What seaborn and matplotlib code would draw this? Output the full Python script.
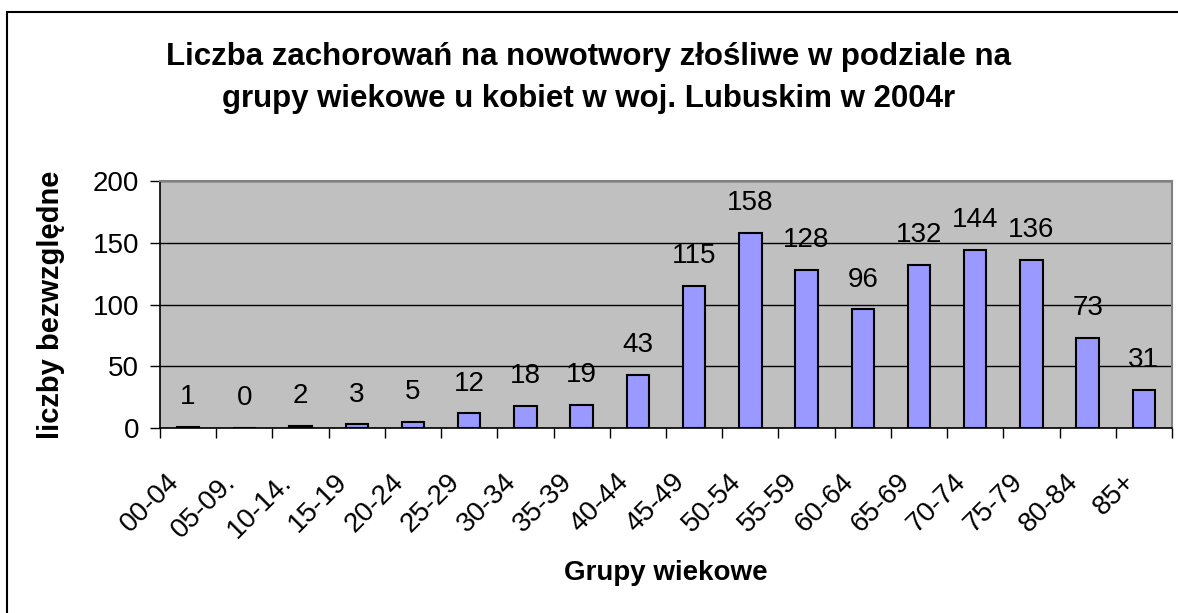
import numpy as np
import matplotlib
matplotlib.use("Agg")
import matplotlib.pyplot as plt
import seaborn as sns
from matplotlib.patches import Rectangle
from matplotlib.transforms import ScaledTranslation

sns.set_style("white")
plt.rcParams['font.family'] = ['Liberation Sans', 'DejaVu Sans']
plt.rcParams['text.color'] = 'black'
plt.rcParams['axes.labelcolor'] = 'black'
plt.rcParams['xtick.color'] = 'black'
plt.rcParams['ytick.color'] = 'black'

groups = ["00-04", "05-09.", "10-14.", "15-19", "20-24", "25-29", "30-34", "35-39",
          "40-44", "45-49", "50-54", "55-59", "60-64", "65-69", "70-74", "75-79",
          "80-84", "85+"]
counts = [1, 0, 2, 3, 5, 12, 18, 19, 43, 115, 158, 128, 96, 132, 144, 136, 73, 31]

title_1 = "Liczba zachorowań na nowotwory złośliwe w podziale na"
title_2 = "grupy wiekowe u kobiet w woj. Lubuskim w 2004r"

fig = plt.figure(figsize=(11.78, 6.13), dpi=100)
ax = fig.add_axes([160 / 1178, 1 - 428 / 613, 1012 / 1178, 247 / 613])
ax.set_facecolor("#C0C0C0")

sns.barplot(x=groups, y=counts, color="#9999FF", saturation=1, width=0.4,
            edgecolor="black", linewidth=1.5, ax=ax, zorder=3)
ax.bar_label(ax.containers[0], padding=12, fontsize=20)

ax.set_ylim(0, 200)
ax.set_xlim(-0.5, len(groups) - 0.5)
ax.set_yticks([0, 50, 100, 150, 200])
ax.yaxis.grid(True, color="black", linewidth=1)
ax.set_axisbelow(True)

# ticks between categories, labels at centres
ax.set_xticks(np.arange(len(groups)))
ax.set_xticklabels(groups, rotation=45, ha="right", va="center", rotation_mode="anchor")
ax.set_xticks(np.arange(len(groups) + 1) - 0.5, minor=True)
ax.tick_params(axis="x", which="major", length=0, pad=36, labelsize=20)
ax.tick_params(axis="x", which="minor", length=7, width=1, direction="out")
ax.tick_params(axis="y", length=7, width=1, direction="out", labelsize=20, pad=8)
ax.xaxis.set_ticks_position("bottom")
ax.yaxis.set_ticks_position("left")
shift = ScaledTranslation(-13 / 100, 0, fig.dpi_scale_trans)
for lbl in ax.get_xticklabels():
    lbl.set_transform(lbl.get_transform() + shift)

for s in ["left", "bottom"]:
    ax.spines[s].set_color("black")
    ax.spines[s].set_linewidth(1.2)
for s in ["top", "right"]:
    ax.spines[s].set_color("#808080")
    ax.spines[s].set_linewidth(1.5)

ax.set_xlabel("Grupy wiekowe", fontsize=20, fontweight="bold")
ax.set_ylabel("liczby bezwzględne", fontsize=21, fontweight="bold")
ax.xaxis.set_label_coords(0.5, -0.535)
ax.yaxis.set_label_coords(-0.094, 0.5)

fig.text(0.5, 1 - 65 / 613, title_1, ha="center", va="baseline", fontsize=22.5, fontweight="bold")
fig.text(0.5, 1 - 107 / 613, title_2, ha="center", va="baseline", fontsize=22.5, fontweight="bold")

# chart frame
fig.patches.append(Rectangle((7 / 1178, -0.2), 1.5, 1 - 12 / 613 + 0.2,
                             transform=fig.transFigure, fill=False,
                             edgecolor="black", linewidth=1.5))

fig.savefig("out.png", dpi=100)
